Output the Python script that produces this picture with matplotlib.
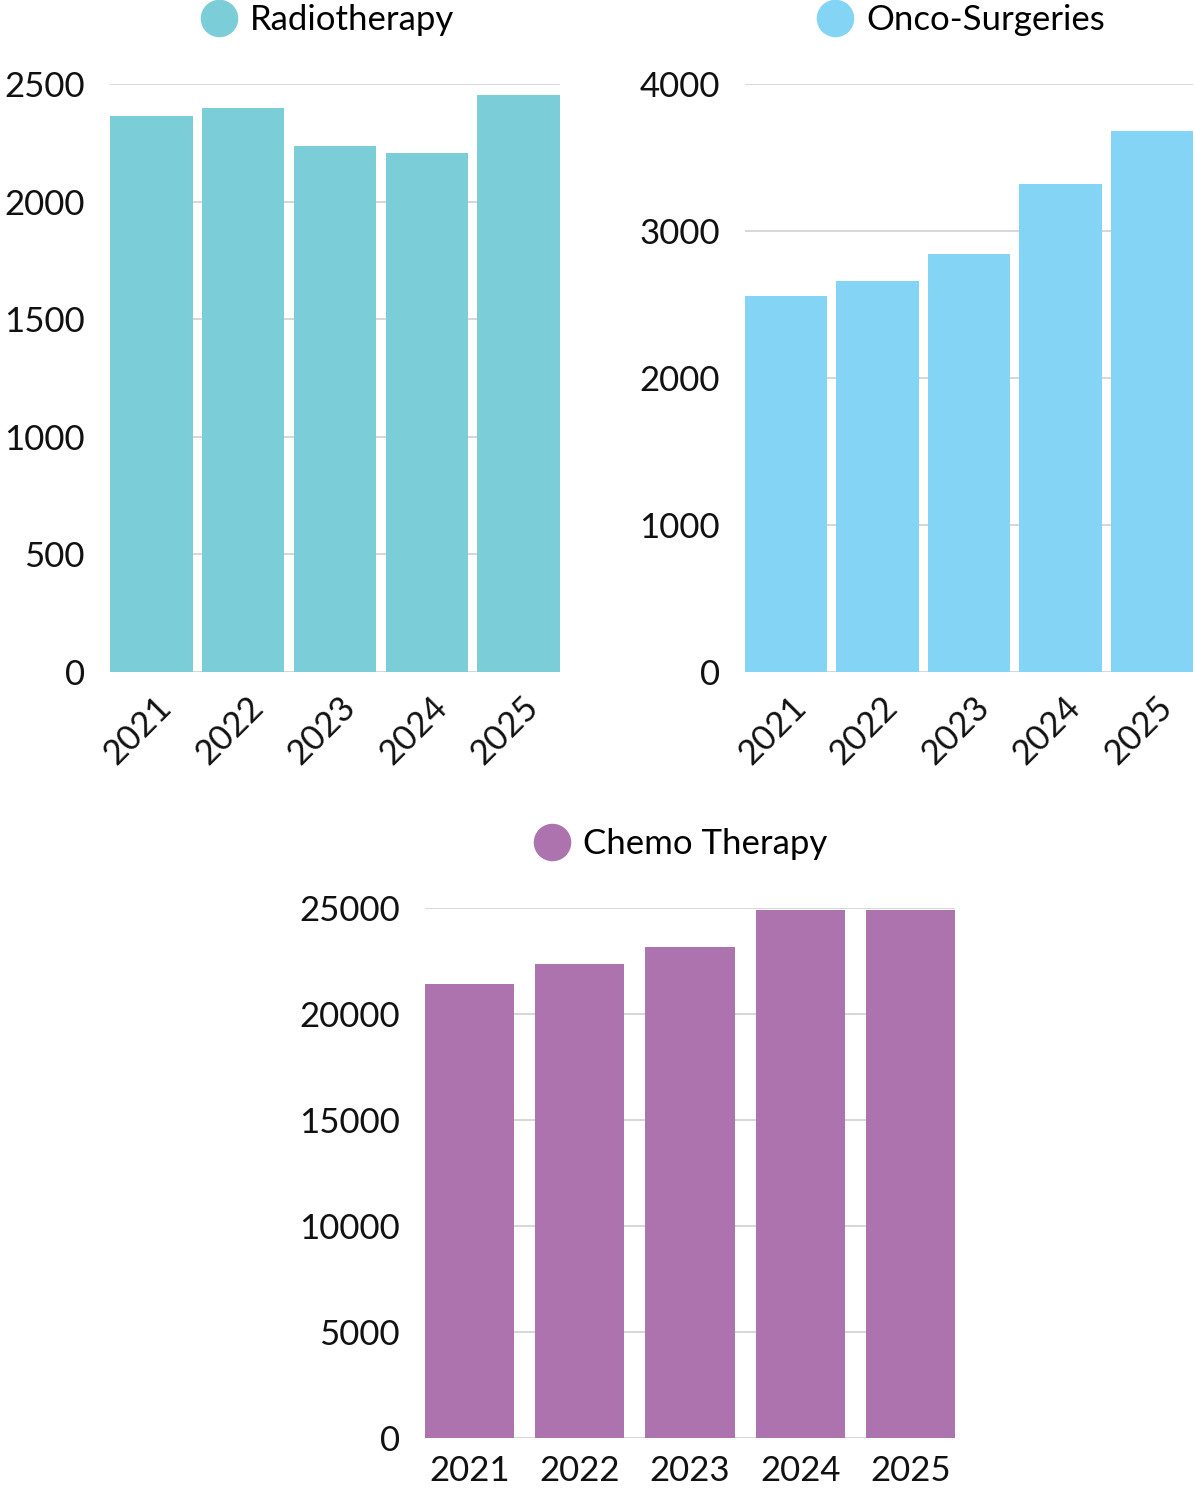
import matplotlib
matplotlib.use("Agg")
import matplotlib.pyplot as plt
from matplotlib.lines import Line2D
from matplotlib.transforms import ScaledTranslation

plt.rcParams['font.family'] = ['Lato', 'DejaVu Sans']

# dados
anos = ["2021", "2022", "2023", "2024", "2025"]
radio = [2364, 2396, 2238, 2207, 2455]
onco = [2555, 2657, 2846, 3320, 3677]
quimio = [21430, 22340, 23160, 24900, 24900]

cor_radio = "#7bced8"
cor_onco = "#84d4f5"
cor_quimio = "#ac73af"

W, H = 1195.0, 1488.0
fig = plt.figure(figsize=(W / 100, H / 100), dpi=100)


def painel(rect, valores, cor, nome, ymax, passo, largura, rotacao):
    ax = fig.add_axes(rect)
    x = range(len(anos))
    ax.bar(x, valores, width=largura, color=cor, zorder=2)
    ax.set_xlim(-largura / 2, len(anos) - 1 + largura / 2)
    ax.set_ylim(0, ymax)
    ax.set_yticks(range(0, ymax + 1, passo))
    ax.set_yticklabels([str(v) for v in range(0, ymax + 1, passo)])
    ax.set_xticks(list(x))
    ax.grid(axis="y", color="#d0d0d0", linewidth=1.2, zorder=0)
    ax.set_axisbelow(True)
    for s in ax.spines.values():
        s.set_visible(False)
    ax.tick_params(length=0, labelsize=25, colors="#111111")
    ax.tick_params(axis="y", pad=18)
    if rotacao:
        ax.set_xticklabels(anos, rotation=45, ha="right", va="center",
                           rotation_mode="anchor")
        for t in ax.get_xticklabels():
            t.set_transform(t.get_transform() +
                            ScaledTranslation(0.15, -0.25, fig.dpi_scale_trans))
    else:
        ax.set_xticklabels(anos)
        ax.tick_params(axis="x", pad=12)
    # legenda com circulo acima do grafico
    h = Line2D([], [], marker="o", linestyle="none", markersize=26,
               markerfacecolor=cor, markeredgecolor=cor)
    alt_px = rect[3] * H
    ax.legend([h], [nome], loc="center", bbox_to_anchor=(0.48, 1 + 64 / alt_px),
              frameon=False, fontsize=25, handletextpad=0.3,
              borderaxespad=0, borderpad=0, handlelength=1.2)
    return ax


painel([110 / W, (H - 672) / H, 450 / W, 588 / H], radio, cor_radio,
       "Radiotherapy", 2500, 500, 0.9, True)
painel([745 / W, (H - 672) / H, 448 / W, 588 / H], onco, cor_onco,
       "Onco-Surgeries", 4000, 1000, 0.9, True)
painel([425 / W, (H - 1438) / H, 530 / W, 530 / H], quimio, cor_quimio,
       "Chemo Therapy", 25000, 5000, 0.81, False)

fig.savefig("out.png", dpi=100, facecolor="white")
